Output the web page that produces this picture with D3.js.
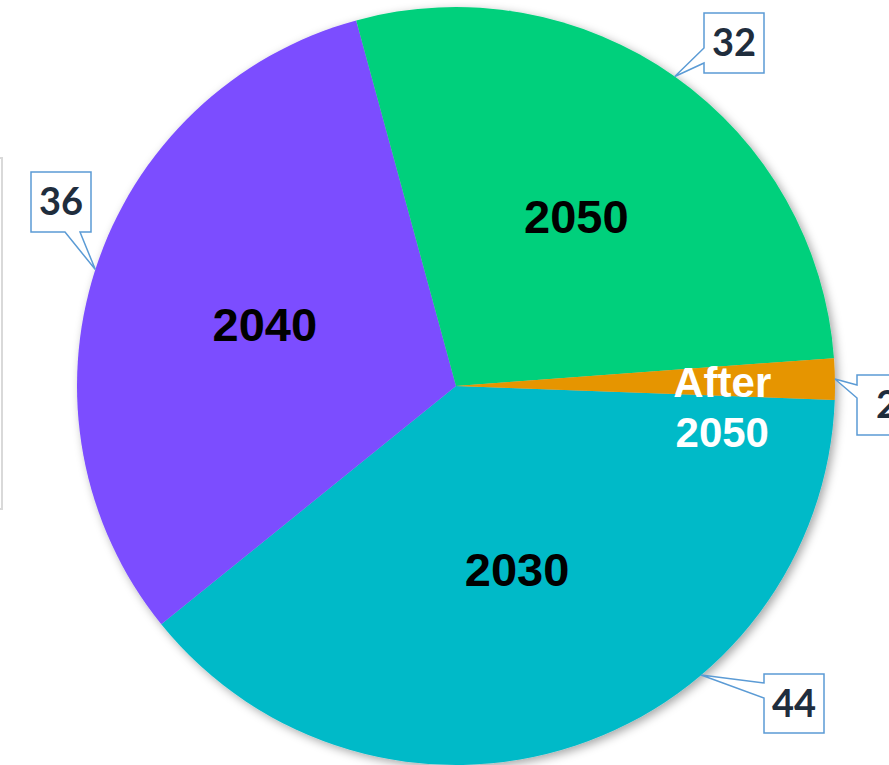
<!DOCTYPE html>
<html><head><meta charset="utf-8">
<script src="https://cdn.jsdelivr.net/npm/d3@7"></script>
<style>html,body{margin:0;padding:0;background:#fff;overflow:hidden}</style>
</head><body>
<svg id="c" width="889" height="765"></svg>
<script>
const categories = ["2030", "2040", "2050", "After 2050"];
const values = [44, 36, 32, 2];
const colors = ["#00BAC8", "#7B4DFF", "#00D07C", "#E69500"];

const W = 889, H = 765, cx = 456, cy = 386, R = 379;
const svg = d3.select("#c");
const defs = svg.append("defs");
const f = defs.append("filter").attr("id","sh").attr("x","-10%").attr("y","-10%").attr("width","120%").attr("height","120%");
f.append("feDropShadow").attr("dx",3).attr("dy",3).attr("stdDeviation",5).attr("flood-color","#000").attr("flood-opacity",0.35);

// partial legend frame at left
svg.append("path").attr("d","M-10,158 L2,158 L2,509 L-10,509").attr("fill","none").attr("stroke","#d9d9d9").attr("stroke-width",2);

const start = 92.1 * Math.PI/180;
const pie = d3.pie().sort(null).value(d=>d.v).startAngle(start).endAngle(start + 2*Math.PI);
const data = categories.map((c,i)=>({c, v: values[i], col: colors[i]}));
const arcs = pie(data);
const arc = d3.arc().innerRadius(0).outerRadius(R);
const g = svg.append("g").attr("transform",`translate(${cx},${cy})`);
g.append("g").attr("filter","url(#sh)").selectAll("path").data(arcs).join("path")
  .attr("d",arc).attr("fill",d=>d.data.col);

// inner labels
const labelR = [0.51, 0.53, 0.55, 0.70];
arcs.forEach((a,i)=>{
  const m = (a.startAngle + a.endAngle)/2;
  const r = R*labelR[i];
  const x = Math.sin(m)*r, y = -Math.cos(m)*r;
  const t = g.append("text").attr("text-anchor","middle")
    .attr("font-family","Liberation Sans, Arial, sans-serif").attr("font-weight","bold")
    .attr("fill", i===3 ? "#fff" : "#000");
  if (i===3) {
    t.attr("font-size",42);
    const parts = a.data.c.split(" ");
    t.append("tspan").attr("x",x+1).attr("y",y+16).text(parts[0]);
    t.append("tspan").attr("x",x+1).attr("y",y+66).text(parts[1]);
  } else {
    t.attr("font-size",47).attr("x",x).attr("y",y+17).text(a.data.c);
  }
});

// callouts: box (x,y,w,h in page coords), pointer side, tip angle (deg)
const callouts = [
  {box:[764,674,60,59], side:"left", p:[683,698], tipDeg:139.7},
  {box:[31,172,60,60], side:"bottom", p:[65,80], tipDeg:null},
  {box:[704,13,60,60], side:"left", p:[48,63], tipDeg:null},
  {box:[857,375,60,60], side:"left", p:[385,398], tipDeg:null}
];
const layer = svg.append("g");
arcs.forEach((a,i)=>{
  const co = callouts[i];
  const m = co.tipDeg!=null ? co.tipDeg*Math.PI/180 : (a.startAngle + a.endAngle)/2;
  const tx = cx + Math.sin(m)*R, ty = cy - Math.cos(m)*R;
  const [bx,by,bw,bh] = co.box;
  let d;
  if (co.side==="left") {
    d = `M${bx},${by} L${bx+bw},${by} L${bx+bw},${by+bh} L${bx},${by+bh} L${bx},${co.p[1]} L${tx},${ty} L${bx},${co.p[0]} Z`;
  } else {
    d = `M${bx},${by} L${bx+bw},${by} L${bx+bw},${by+bh} L${co.p[1]},${by+bh} L${tx},${ty} L${co.p[0]},${by+bh} L${bx},${by+bh} Z`;
  }
  layer.append("path").attr("d",d).attr("fill","#fff").attr("stroke","#5B9BD5").attr("stroke-width",1.5);
  layer.append("text").attr("x",bx+bw/2).attr("y",by+bh/2+13).attr("text-anchor","middle")
    .attr("font-family","Lato, 'Open Sans', sans-serif").attr("font-weight","bold").attr("font-size",38)
    .attr("fill","#1F2D3D").text(a.data.v);
});
</script>
</body></html>
